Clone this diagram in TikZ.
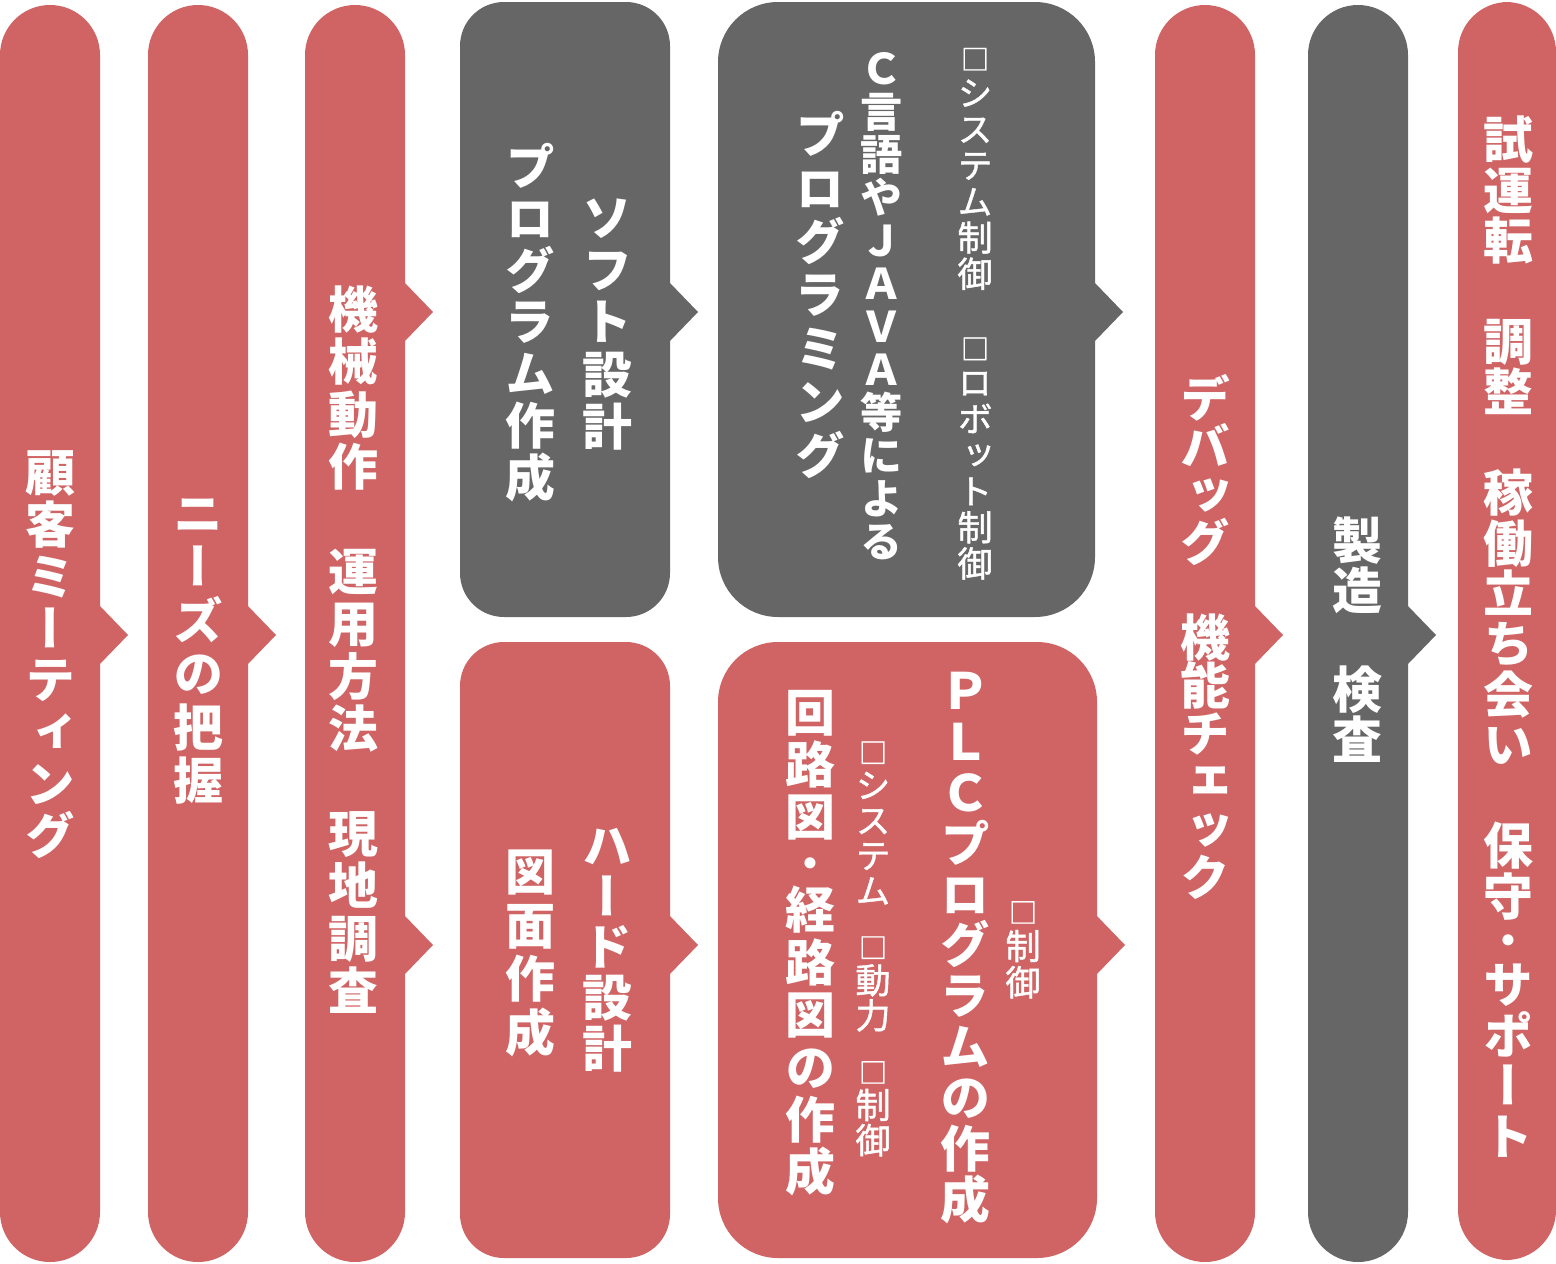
\documentclass[tikz,border=0pt]{standalone}
\usepackage{fontspec}
\usepackage{tikz}
\newfontfamily\jpfont[Script=CJK,RawFeature=+vert]{Noto Sans CJK JP}
\definecolor{redc}{RGB}{208,99,99}
\definecolor{grayc}{RGB}{102,102,102}

% one column of upright glyphs; * gives a half space
\newcommand\vcol[2]{\vbox{\baselineskip=#1em\lineskiplimit=-\maxdimen
  \lineskip=0pt\vtok#2\relax}}
\newcommand\vcell[1]{\hbox to 1em{\hss\vrule width0pt height0.88em depth0.12em#1\hss}}
\def\vtok#1{\ifx#1\relax\else
  \ifx#1*\kern0.55em\else
  \ifx#1・\kern-0.12em\hbox to 1em{\hss\raisebox{0.076em}{\scalebox{0.8}{#1}}\hss}\kern-0.12em\else
  \ifx#1□\vcell{\scalebox{0.8}{#1}}\else
  \vcell{#1}\fi\fi\fi
  \expandafter\vtok\fi}

\begin{document}
\begin{tikzpicture}[
  x=0.025cm, y=-0.025cm,
  big/.style={text=white,inner sep=0pt,
              font=\jpfont\bfseries\fontsize{35.5}{36}\selectfont},
  mid/.style={text=white,inner sep=0pt,
              font=\jpfont\bfseries\fontsize{30}{30}\selectfont},
  sml/.style={text=white,inner sep=0pt,
              font=\jpfont\fontsize{25}{25}\selectfont\addfontfeature{FakeBold=1.2}},
]
  \useasboundingbox (0,0) rectangle (1556,1263);

  % stages
  \fill[redc,rounded corners=1.25cm]  (0,5)    rectangle (100,1262);
  \fill[redc,rounded corners=1.25cm]  (148,5)  rectangle (248,1262);
  \fill[redc,rounded corners=1.25cm]  (305,5)  rectangle (405,1262);
  \fill[grayc,rounded corners=1.1cm]  (460,2)  rectangle (670,617);
  \fill[redc,rounded corners=1.1cm]   (460,642) rectangle (670,1258);
  \fill[grayc,rounded corners=1.5cm]  (718,2)  rectangle (1095,617);
  \fill[redc,rounded corners=1.5cm]   (718,642) rectangle (1097,1258);
  \fill[redc,rounded corners=1.25cm]  (1155,5) rectangle (1255,1262);
  \fill[grayc,rounded corners=1.25cm] (1308,5) rectangle (1408,1262);
  \fill[redc,rounded corners=1.25cm]  (1458,2) rectangle (1556,1260);

  % notches
  \foreach \x/\y/\c in {100/635/redc, 248/635/redc, 405/312/redc,
      405/945/redc, 670/312/grayc, 670/945/redc, 1095/312/grayc,
      1097/945/redc, 1255/635/redc, 1408/635/grayc}
    \fill[\c] (\x-1,\y-30) -- (\x+28,\y) -- (\x-1,\y+30) -- cycle;

  % labels
  \node[big] (meet)  at (50,654)   {\vcol{1.04}{顧客ミーティング}};
  \node[big] (needs) at (198,647)  {\vcol{1.07}{ニーズの把握}};
  \node[big] (survey) at (353,650) {\vcol{1.05}{機械動作　運用方法　現地調査}};
  \node[big] (soft)  at (607,322)  {\vcol{1.05}{ソフト設計}};
  \node[big] (prog)  at (530,322)  {\vcol{1.04}{プログラム作成}};
  \node[big] (hard)  at (607,947)  {\vcol{1.02}{ハード設計}};
  \node[big] (draw)  at (530,952)  {\vcol{1.07}{図面作成}};
  \node[sml] (ctrl)  at (975,310)  {\vcol{1.03}{□システム制御　□ロボット制御}};
  \node[mid] (clang) at (882,305)  {\vcol{1.02}{Ｃ言語やＪＡＶＡ等による}};
  \node[big] (coding) at (820,295) {\vcol{1.07}{プログラミング}};
  \node[sml] (plcc)  at (1023,946) {\vcol{1.03}{□制御}};
  \node[big] (plc)   at (965,945)  {\vcol{1.02}{ＰＬＣプログラムの作成}};
  \node[sml] (kinds) at (873,945)  {\vcol{1.0}{□システム*□動力*□制御}};
  \node[big] (circ)  at (810,942)  {\vcol{1.05}{回路図・経路図の作成}};
  \node[big] (debug) at (1205,638) {\vcol{0.96}{デバッグ　機能チェック}};
  \node[big] (make)  at (1357,640) {\vcol{1.0}{製造　検査}};
  \node[big] (trial) at (1508,638) {\vcol{1.01}{試運転　調整　稼働立ち会い　保守・サポート}};
\end{tikzpicture}
\end{document}
